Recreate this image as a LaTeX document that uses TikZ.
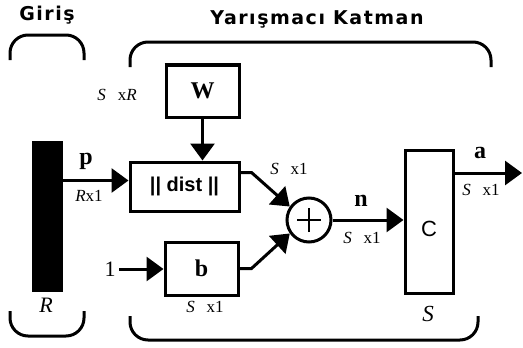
\documentclass[tikz,border=0pt]{standalone}
\usepackage{fontspec}
\setmainfont{Liberation Serif}
\setsansfont{Liberation Sans}
\newfontfamily\headfont[LetterSpace=8]{DejaVu Sans}
\usetikzlibrary{arrows.meta,positioning}
\newcommand{\sxone}{{\itshape S}\hspace{0.7em}x1}

\begin{document}
\begin{tikzpicture}[x=1pt,y=-1pt,
    blk/.style={draw, line width=3pt, inner sep=0pt},
    wire/.style={line width=3pt},
    conn/.style={line width=3pt, -{Triangle[length=17pt,width=24pt]}},
    brace/.style={line width=3pt, rounded corners=18pt},
    head/.style={font=\headfont\bfseries\fontsize{19}{19}\selectfont},
    dimlab/.style={font=\fontsize{17}{17}\selectfont},
    sym/.style={font=\bfseries\fontsize{24}{24}\selectfont}]
    \useasboundingbox (0,0) rectangle (523,348);

    % Headings and brackets
    \node[head] (giris) at (47,15) {Giriş};
    \node[head] (katman) at (317,19) {Yarışmacı Katman};
    \draw[brace] (10,60) -- (10,35) -- (84,35) -- (84,60);
    \draw[brace] (130,67) -- (130,42) -- (491,42) -- (491,67);
    \draw[brace] (10,311) -- (10,336) -- (84,336) -- (84,311);
    \draw[brace] (130,316) -- (130,340) -- (478,340) -- (478,316);

    % Input vector
    \node[blk, fill=black, minimum width=28pt, minimum height=148pt] (bar) at (47,216) {};
    \node[font=\itshape\fontsize{22}{22}\selectfont] (Rlab) at (46,305) {R};

    % Blocks
    \node[blk, sym, minimum width=73pt, minimum height=52pt] (W) at (202.5,91) {W};
    \draw[line width=2pt] (W.north west) -- (W.north east); % heavier top edge
    \node[blk, font=\sffamily\bfseries\fontsize{20}{20}\selectfont,
          minimum width=109pt, minimum height=49pt] (dist) at (184.5,186.5) {|| dist ||};
    \node[blk, sym, minimum width=73pt, minimum height=53pt] (b) at (201.5,268.5) {b};
    \node[blk, circle, minimum size=44pt] (sum) at (309,220) {};
    \draw[line width=2.5pt] ([xshift=-12pt]sum.center) -- ([xshift=12pt]sum.center);
    \draw[line width=2.5pt] ([yshift=-12pt]sum.center) -- ([yshift=12pt]sum.center);
    \node[blk, minimum width=48pt, minimum height=143pt] (C) at (429,222) {};
    \node[font=\sffamily\fontsize{22}{22}\selectfont] (Ctext) at ([yshift=-7pt]C.center) {C};
    \node[font=\itshape\fontsize{23}{23}\selectfont] (Slab) at (428,314) {S};
    \node[font=\fontsize{22}{22}\selectfont] (one) at (110,269) {1};

    % Connectors
    \coordinate (pin) at ([yshift=6pt]dist.west);
    \draw[conn] (bar.east |- pin) -- (pin);
    \draw[conn] (W.south) -- (W.south |- dist.north);
    \draw[conn] ([yshift=14pt]dist.east) -- ++(11,0) -- (sum.145);
    \draw[conn] (b.east) -- ++(12,0) -- (sum.215);
    \draw[conn] (one.east) -- (one.east -| b.west);
    \draw[conn] (sum.east) -- (sum.east -| C.west);
    \coordinate (aout) at (522,173);
    \draw[conn] (aout -| C.east) -- (aout);

    % Signal labels
    \node[sym] (plab) at (86,161) {p};
    \node[sym] (nlab) at (361,201) {n};
    \node[sym] (alab) at (480,153) {a};
    \node[dimlab] (wdim) at (117,95) {{\itshape S}\hspace{0.7em}x{\itshape R}};
    \node[dimlab] (pdim) at (89,196) {{\itshape R}x1};
    \node[dimlab] (ddim) at (289,169) {\sxone};
    \node[dimlab] (bdim) at (205,307) {\sxone};
    \node[dimlab] (ndim) at (362,238) {\sxone};
    \node[dimlab] (adim) at (481,190) {\sxone};
\end{tikzpicture}
\end{document}
